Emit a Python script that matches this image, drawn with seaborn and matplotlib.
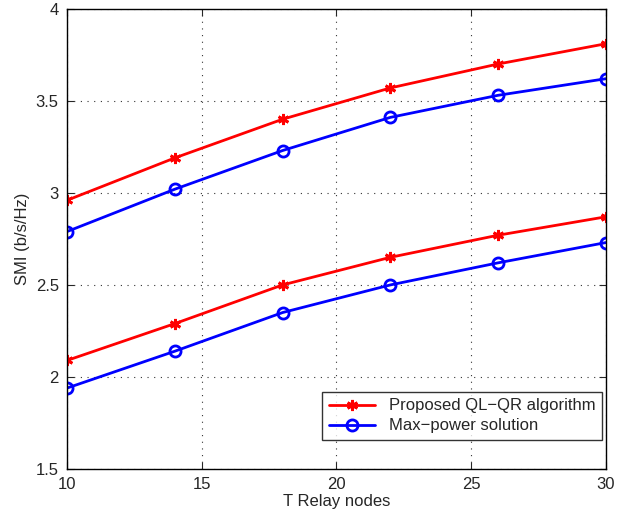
import numpy as np
import pandas as pd
import seaborn as sns
import matplotlib
matplotlib.use("Agg")
import matplotlib.pyplot as plt

relay_nodes = [10, 14, 18, 22, 26, 30]
proposed_high = [2.96, 3.19, 3.40, 3.57, 3.70, 3.81]
maxpower_high = [2.79, 3.02, 3.23, 3.41, 3.53, 3.62]
proposed_low = [2.09, 2.29, 2.50, 2.65, 2.77, 2.87]
maxpower_low = [1.94, 2.14, 2.35, 2.50, 2.62, 2.73]

sns.set_style("ticks")
plt.rcParams['font.family'] = ['Liberation Sans', 'DejaVu Sans']

fig = plt.figure(figsize=(6.33, 5.16), dpi=100)
ax = fig.add_axes([0.106, 0.091, 0.851, 0.892])

def draw(vals, color, marker, label):
    df = pd.DataFrame({"x": relay_nodes, "y": vals})
    if marker == "o":
        sns.lineplot(data=df, x="x", y="y", ax=ax, color=color, linewidth=2,
                     marker="o", markersize=8, markerfacecolor="none",
                     markeredgecolor=color, markeredgewidth=2, label=label)
    else:
        sns.lineplot(data=df, x="x", y="y", ax=ax, color=color, linewidth=2,
                     marker=(6, 2, 0), markersize=8, markeredgecolor=color,
                     markeredgewidth=2, label=label)

draw(proposed_high, "#ff0000", "*", "Proposed QL\u2212QR algorithm")
draw(maxpower_high, "#0000ff", "o", "Max\u2212power solution")
draw(proposed_low, "#ff0000", "*", None)
draw(maxpower_low, "#0000ff", "o", None)

ax.set_xlim(10, 30)
ax.set_ylim(1.5, 4)
ax.set_xticks([10, 15, 20, 25, 30])
ax.set_yticks([1.5, 2, 2.5, 3, 3.5, 4])
ax.set_yticklabels(["1.5", "2", "2.5", "3", "3.5", "4"])
ax.grid(True, linestyle=(0, (1, 5)), color="#333333", linewidth=0.8)
ax.tick_params(direction="in", labelsize=12, top=True, right=True, length=5, pad=6)
for s in ax.spines.values():
    s.set_linewidth(1.0)
    s.set_color("black")
ax.set_xlabel("T Relay nodes", fontsize=12, labelpad=1)
ax.set_ylabel("SMI (b/s/Hz)", fontsize=12, labelpad=4)

handles, labels = ax.get_legend_handles_labels()
leg = ax.legend(handles[:2], labels[:2], loc="lower right", fontsize=12,
                frameon=True, fancybox=False, edgecolor="black",
                bbox_to_anchor=(0.993, 0.063), borderaxespad=0, handlelength=2.8,
                borderpad=0.4, labelspacing=0.3)
leg.get_frame().set_linewidth(1.0)

fig.savefig("out.png", dpi=100)
